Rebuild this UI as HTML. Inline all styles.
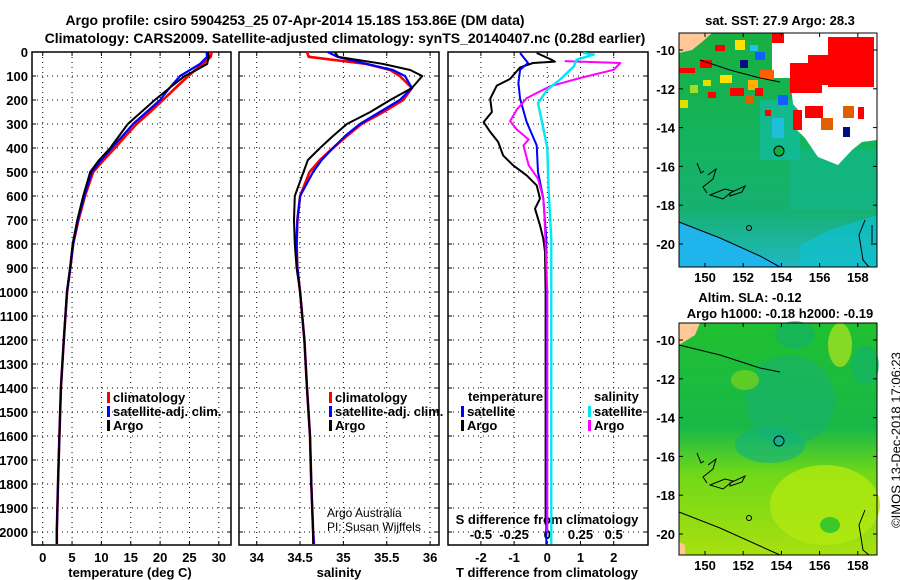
<!DOCTYPE html>
<html><head><meta charset="utf-8"><style>
html,body{margin:0;padding:0;background:#fff;}
svg{display:block;font-family:"Liberation Sans",Arial,sans-serif;}
.b{font-weight:bold;font-size:13px;}
.t{font-weight:bold;font-size:14px;}
</style></head><body>
<svg id="fig" width="900" height="580" viewBox="0 0 900 580">
<text class="t" x="295" y="25" text-anchor="middle">Argo profile: csiro 5904253_25 07-Apr-2014 15.18S 153.86E (DM data)</text>
<text class="t" x="345" y="43" text-anchor="middle">Climatology: CARS2009. Satellite-adjusted climatology: synTS_20140407.nc (0.28d earlier)</text>
<g id="p1"></g>
<g id="p2"></g>
<g id="p3"></g>
<g id="m1">
 <text class="b" x="780" y="25" text-anchor="middle">sat. SST: 27.9 Argo: 28.3</text>
 <defs>
  <linearGradient id="g1" x1="0" y1="0" x2="0" y2="1"><stop offset="0" stop-color="#18b040"/><stop offset="0.5" stop-color="#14b460"/><stop offset="0.75" stop-color="#16b070"/><stop offset="1" stop-color="#20b8c0"/></linearGradient>
  <linearGradient id="g2" x1="0" y1="0" x2="0" y2="1"><stop offset="0" stop-color="#20c030"/><stop offset="0.45" stop-color="#18b848"/><stop offset="0.65" stop-color="#70d818"/><stop offset="1" stop-color="#a8e010"/></linearGradient>
 </defs>
 <rect x="679" y="33" width="198" height="234" fill="url(#g1)"/>
 <rect x="760" y="100" width="40" height="60" fill="#10c0c0" opacity="0.5"/>
 <rect x="790" y="150" width="87" height="60" fill="#10b8a0" opacity="0.4"/>
 <polygon points="679,222 720,238 760,256 790,267 679,267" fill="#20b4ec"/>
 <polygon points="800,267 800,245 830,230 877,215 877,267" fill="#10c0d0" opacity="0.7"/>
 <polygon points="772,33 877,33 877,140 862,142 852,150 838,165 818,157 805,138 795,128 800,112 793,104 790,78 772,78" fill="#fff"/>
 <rect x="790" y="63" width="32" height="30" fill="#ff0000"/>
 <rect x="828" y="37" width="46" height="50" fill="#ff0000"/>
 <rect x="808" y="55" width="26" height="30" fill="#ff0000"/>
 <rect x="772" y="33" width="12" height="10" fill="#ff0000"/>
 <rect x="805" y="106" width="18" height="12" fill="#ff0000"/>
 <rect x="793" y="110" width="9" height="20" fill="#ff0000"/>
 <rect x="821" y="118" width="12" height="12" fill="#e06000"/>
 <rect x="843" y="106" width="11" height="12" fill="#e06000"/>
 <rect x="843" y="127" width="7" height="10" fill="#001080"/>
 <rect x="858" y="107" width="6" height="12" fill="#ff0000"/>
 <rect x="679" y="68" width="16" height="5" fill="#ff0000"/>
 <rect x="700" y="60" width="12" height="8" fill="#ff0000"/>
 <rect x="730" y="88" width="14" height="8" fill="#ff0000"/>
 <rect x="748" y="80" width="10" height="10" fill="#ffb000"/>
 <rect x="765" y="110" width="6" height="6" fill="#ff0000"/>
 <rect x="720" y="75" width="12" height="8" fill="#ffe000"/>
 <rect x="760" y="70" width="14" height="10" fill="#ff6000"/>
 <rect x="740" y="60" width="8" height="8" fill="#001080"/>
 <rect x="778" y="95" width="10" height="10" fill="#1060ff"/>
 <rect x="772" y="118" width="12" height="20" fill="#20c0f0" opacity="0.8"/>
 <rect x="715" y="45" width="10" height="6" fill="#ff0000"/>
 <rect x="735" y="40" width="10" height="10" fill="#ffe000"/>
 <rect x="750" y="45" width="8" height="6" fill="#20c0f0"/>
 <rect x="755" y="52" width="10" height="8" fill="#1060ff"/>
 <rect x="708" y="92" width="8" height="6" fill="#ff0000"/>
 <rect x="690" y="85" width="8" height="8" fill="#a0e020"/>
 <rect x="703" y="80" width="8" height="6" fill="#e0e000"/>
 <rect x="745" y="95" width="8" height="8" fill="#e06000"/>
 <rect x="755" y="88" width="8" height="8" fill="#ff0000"/>
 <rect x="680" y="100" width="8" height="8" fill="#e0e000"/>
 <polygon points="679,33 712,33 702,42 692,50 679,53" fill="#ffc896"/>
 <polyline points="679,222 720,238 760,256 780,267" fill="none" stroke="#000" stroke-width="1"/>
 <polyline points="700,60 730,70 760,78 780,82" fill="none" stroke="#000" stroke-width="1"/>
 <path d="M697,163 l4,10 3,-2 M708,175 l8,-6 -3,10 -10,8 4,6 M710,195 l15,-6 8,2 -10,8 z M730,193 l15,-7 -3,6 -12,4 z" fill="none" stroke="#000"/>
 <path d="M865,220 l-6,15 4,25 6,7 M872,225 l0,20" fill="none" stroke="#000"/>
 <circle cx="749" cy="228" r="2.5" fill="none" stroke="#000"/>
 <circle cx="779" cy="151" r="5" fill="#10b040" stroke="#000"/>
 <rect x="679" y="33" width="198" height="234" fill="none" stroke="#000"/>
</g>
<g id="m2">
 <text class="b" x="750" y="302" text-anchor="middle">Altim. SLA: -0.12</text>
 <text class="b" x="780" y="318" text-anchor="middle">Argo h1000: -0.18 h2000: -0.19</text>
 <rect x="679" y="323" width="198" height="232" fill="url(#g2)"/>
 <ellipse cx="790" cy="400" rx="45" ry="45" fill="#18b070" opacity="0.6"/>
 <ellipse cx="770" cy="445" rx="35" ry="18" fill="#10b080" opacity="0.6"/>
 <ellipse cx="795" cy="335" rx="20" ry="14" fill="#10b070" opacity="0.6"/>
 <ellipse cx="865" cy="365" rx="14" ry="20" fill="#10b070" opacity="0.6"/>
 <ellipse cx="840" cy="345" rx="12" ry="22" fill="#a0e020" opacity="0.8"/>
 <ellipse cx="745" cy="380" rx="14" ry="10" fill="#70d020" opacity="0.8"/>
 <ellipse cx="825" cy="505" rx="55" ry="40" fill="#b0e810" opacity="0.8"/>
 <ellipse cx="830" cy="525" rx="10" ry="8" fill="#20c030" opacity="0.8"/>
 <polygon points="679,323 700,323 695,335 679,345" fill="#ffc896"/>
 <polygon points="679,542 685,545 685,555 679,555" fill="#ffc896"/>
 <polyline points="679,512 720,528 760,546 780,555" fill="none" stroke="#000" stroke-width="1"/>
 <polyline points="679,345 720,355 760,368 780,372" fill="none" stroke="#000" stroke-width="1"/>
 <path d="M697,453 l4,10 3,-2 M708,465 l8,-6 -3,10 -10,8 4,6 M710,485 l15,-6 8,2 -10,8 z M730,483 l15,-7 -3,6 -12,4 z" fill="none" stroke="#000"/>
 <path d="M865,510 l-6,15 4,25 6,5" fill="none" stroke="#000"/>
 <circle cx="749" cy="518" r="2.5" fill="none" stroke="#000"/>
 <circle cx="779" cy="441" r="5" fill="#10b090" stroke="#000"/>
 <rect x="679" y="323" width="198" height="232" fill="none" stroke="#000"/>
</g>
<text x="897" y="440" font-size="13" text-anchor="middle" transform="rotate(-90 897 440)" dominant-baseline="middle">©IMOS 13-Dec-2018 17:06:23</text>
</svg>
<script>
// depth levels (dbar)
const depths = [0,20,50,75,100,150,200,250,300,350,400,450,500,600,700,800,900,1000,1200,1400,1600,1800,2000,2050];
// temperature (deg C)
const tempArgo = [28.2,28.3,28.0,26.2,24.2,21.6,19.1,16.8,14.5,13.0,11.5,9.6,8.1,6.9,5.9,5.1,4.65,4.1,3.6,3.1,2.85,2.6,2.4,2.4];
const tempSat  = [27.9,28.0,26.8,25.1,23.4,21.6,20.0,17.7,15.4,13.6,11.75,10.0,8.35,7.1,6.0,5.2,4.7,4.15,3.6,3.1,2.85,2.6,2.4,2.4];
const tempClim = [28.8,28.6,27.3,26.0,24.8,22.6,20.5,18.3,16.0,14.1,12.3,10.4,8.6,7.2,6.1,5.2,4.7,4.15,3.6,3.1,2.85,2.6,2.4,2.4];
// salinity
const salArgo = [34.90,34.94,35.46,35.77,35.91,35.79,35.54,35.31,35.04,34.88,34.73,34.59,34.54,34.44,34.43,34.44,34.46,34.50,34.55,34.58,34.615,34.63,34.65,34.65];
const salSat  = [34.82,34.93,35.27,35.57,35.71,35.79,35.65,35.42,35.19,35.02,34.88,34.75,34.65,34.50,34.47,34.46,34.47,34.50,34.55,34.58,34.615,34.63,34.65,34.66];
const salClim = [34.58,34.60,35.27,35.54,35.65,35.79,35.69,35.46,35.21,35.04,34.88,34.73,34.61,34.50,34.47,34.46,34.47,34.50,34.55,34.58,34.615,34.63,34.65,34.66];
// differences from climatology
const dTArgoDepth = [4,29,40,46,64,112,140,195,250,292,333,375,431,472,514,556,611,653,722,778,833,1000,1400,1970];
const dTArgo = [-0.32,0.08,0.23,-0.43,-0.82,-1.12,-1.52,-1.72,-1.67,-1.92,-1.72,-1.48,-1.33,-1.03,-0.62,-0.32,-0.22,-0.37,-0.22,-0.12,-0.07,-0.05,-0.05,-0.05];
const dTSatDepth = [4,46,74,129,195,292,389,500,611,778,1200,2050];
const dTSat = [-0.82,-0.58,-0.82,-0.87,-0.82,-0.62,-0.32,-0.28,-0.12,-0.03,-0.03,-0.03];
const dSSatDepth = [4,11,32,60,115,157,213,292,400,570,780,2050];
const dSSat = [0.27,0.35,0.22,0.20,0.096,0.0,-0.07,-0.04,0.0,0.01,0.03,0.03];
const dSArgoDepth = [38,46,74,108,143,192,240,288,323,365,389,472,528,611,694,1000,1500,2000];
const dSArgo = [0.13,0.55,0.50,0.25,0.02,-0.155,-0.23,-0.28,-0.23,-0.14,-0.18,-0.14,-0.07,-0.03,-0.02,0.0,0.0,0.0];
// tick labels
const depthTicks = [0,100,200,300,400,500,600,700,800,900,1000,1100,1200,1300,1400,1500,1600,1700,1800,1900,2000];
const tempTicks = [0,5,10,15,20,25,30];
const salTicks = [34,34.5,35,35.5,36];
const dTTicks = [-2,-1,0,1,2];
const dSTicks = [-0.5,-0.25,0,0.25,0.5];
const latTicks = [-10,-12,-14,-16,-18,-20];
const lonTicks = [150,152,154,156,158];

const NS="http://www.w3.org/2000/svg";
const yD = d => 52 + d*0.24;
const xT = t => 42.7 + t*5.87;
const xS = s => 256.7 + (s-34)*86.7;
const xDT = v => 547.3 + v*33.2;
const xDS = v => 547.3 + v*132.8;
function mk(parent, tag, attrs){const e=document.createElementNS(NS,tag);for(const k in attrs)e.setAttribute(k,attrs[k]);parent.appendChild(e);return e;}
function txt(parent,x,y,s,anchor,cls){const e=mk(parent,'text',{x:x,y:y,'text-anchor':anchor||'middle'});if(cls)e.setAttribute('class',cls);e.textContent=s;return e;}

function panel(g,L,R,xticks,xf,name){
  const T=52,B=545;
  depthTicks.forEach(d=>{
    const l=mk(g,'line',{x1:L,x2:R,y1:yD(d),y2:yD(d),stroke:'#000','stroke-dasharray':'1,4','stroke-width':1});
    
    
    mk(g,'line',{x1:L,x2:L+4,y1:yD(d),y2:yD(d),stroke:'#000'});
    mk(g,'line',{x1:R-4,x2:R,y1:yD(d),y2:yD(d),stroke:'#000'});
  });
  xticks.forEach(v=>{
    const x=xf(v);
    const l=mk(g,'line',{x1:x,x2:x,y1:T,y2:B,stroke:'#000','stroke-dasharray':'1,4','stroke-width':1});
    
    
    mk(g,'line',{x1:x,x2:x,y1:B-4,y2:B,stroke:'#000'});
    mk(g,'line',{x1:x,x2:x,y1:T,y2:T+4,stroke:'#000'});
  });
  const f=mk(g,'rect',{x:L,y:T,width:R-L,height:B-T,fill:'none',stroke:'#000','stroke-width':1.5});
  
  
}
function line(g,xs,ds,xf,color,name,w){
  const pts=xs.map((v,i)=>xf(v).toFixed(1)+','+yD(ds[i]).toFixed(1)).join(' ');
  const p=mk(g,'polyline',{points:pts,fill:'none',stroke:color,'stroke-width':w||2.2,'stroke-linejoin':'round'});
  
  
}
function legend(g,x,y,color,label){
  mk(g,'rect',{x:x,y:y-6,width:3,height:11,fill:color});
  const t=txt(g,x+6,y+4,label,'start','b');
  
  
}

// Panel 1
const p1=document.getElementById('p1');
panel(p1,32,231,tempTicks,xT,'temp');
depthTicks.forEach(d=>{const t=txt(p1,28,yD(d)+5,String(d),'end','b');
  
  });
tempTicks.forEach(v=>{const t=txt(p1,xT(v),562,String(v),'middle','b');
  
  });
const tt=txt(p1,130,577,'temperature (deg C)','middle','b');


line(p1,tempClim,depths,xT,'#ff0000','temp-climatology-line',2.6);
line(p1,tempSat,depths,xT,'#0000ff','temp-satellite-line',2.2);
line(p1,tempArgo,depths,xT,'#000','temp-argo-line',2);
legend(p1,107,398,'#ff0000','climatology');
legend(p1,107,412,'#0000ff','satellite-adj. clim.');
legend(p1,107,426,'#000','Argo');

// Panel 2
const p2=document.getElementById('p2');
panel(p2,239,439,salTicks,xS,'sal');
salTicks.forEach(v=>{const t=txt(p2,xS(v),562,String(v),'middle','b');
  
  });
const st=txt(p2,339,577,'salinity','middle','b');


line(p2,salClim,depths,xS,'#ff0000','sal-climatology-line',2.6);
line(p2,salSat,depths,xS,'#0000ff','sal-satellite-line',2.2);
line(p2,salArgo,depths,xS,'#000','sal-argo-line',2);
legend(p2,329,398,'#ff0000','climatology');
legend(p2,329,412,'#0000ff','satellite-adj. clim.');
legend(p2,329,426,'#000','Argo');
const c1=txt(p2,327,517,'Argo Australia','start');c1.setAttribute('font-size','12');


const c2=txt(p2,327,531,'PI: Susan Wijffels','start');c2.setAttribute('font-size','12');



// Panel 3
const p3=document.getElementById('p3');
panel(p3,448,648,dTTicks,xDT,'diff');
dTTicks.forEach(v=>{const t=txt(p3,xDT(v),562,String(v),'middle','b');
  
  });
dSTicks.forEach(v=>{const t=txt(p3,xDS(v),539,String(v),'middle','b');
  
  });
const dt=txt(p3,547,577,'T difference from climatology','middle','b');


const ds=txt(p3,547,524,'S difference from climatology','middle','b');


line(p3,dTArgo,dTArgoDepth,xDT,'#000','tdiff-argo-line',2);
line(p3,dTSat,dTSatDepth,xDT,'#0000ff','tdiff-satellite-line',2);
line(p3,dSArgo,dSArgoDepth,xDS,'#ff00ff','sdiff-argo-line',2);
line(p3,dSSat,dSSatDepth,xDS,'#00e8f0','sdiff-satellite-line',2.4);
const lt=txt(p3,468,401,'temperature','start','b');


legend(p3,461,412,'#0000ff','satellite');
legend(p3,461,426,'#000','Argo');
const ls=txt(p3,594,401,'salinity','start','b');


legend(p3,588,412,'#00e8f0','satellite');
legend(p3,588,426,'#ff00ff','Argo');

// map axes
function mapAxes(g,top,bottom,lat10){
  latTicks.forEach(v=>{
    const y=lat10+(-10-v)*19.4;
    const t=txt(g,675,y+5,String(v),'end','b');
    
    
    mk(g,'line',{x1:679,x2:683,y1:y,y2:y,stroke:'#000'});
    mk(g,'line',{x1:873,x2:877,y1:y,y2:y,stroke:'#000'});
  });
  lonTicks.forEach(v=>{
    const x=705+(v-150)*19.1;
    const t=txt(g,x,bottom+15,String(v),'middle','b');
    
    
    mk(g,'line',{x1:x,x2:x,y1:top,y2:top+4,stroke:'#000'});
    mk(g,'line',{x1:x,x2:x,y1:bottom-4,y2:bottom,stroke:'#000'});
  });
}
mapAxes(document.getElementById('m1'),33,267,50);
mapAxes(document.getElementById('m2'),323,555,340);
</script>
</body></html>
